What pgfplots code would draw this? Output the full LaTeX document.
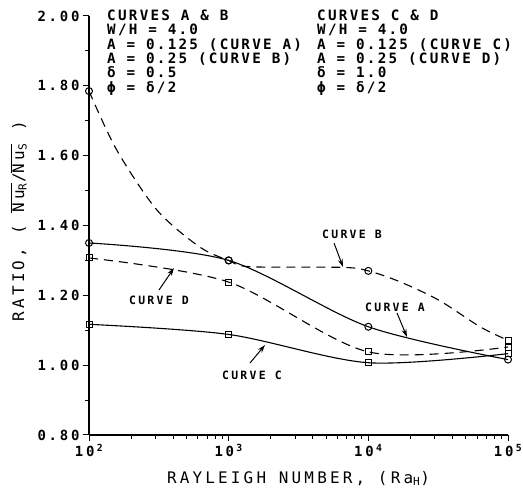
\documentclass[border=0pt]{standalone}
\usepackage{fontspec}
\setmainfont{DejaVu Sans Mono}[LetterSpace=20]
\newfontfamily\hdrfont{DejaVu Sans Mono}[LetterSpace=16]
\usepackage{pgfplots}
\pgfplotsset{compat=1.18}
\usetikzlibrary{arrows.meta}
\begin{document}
\begin{tikzpicture}[x=1bp,y=1bp]
\begin{axis}[
  at={(0,0)}, anchor=south west,
  width=419bp, height=419bp, scale only axis,
  xmode=log, xmin=100, xmax=100000,
  ymin=0.8, ymax=2.0,
  axis x line*=bottom, axis y line*=left,
  axis line style={line width=1.2bp},
  tick align=outside,
  major tick length=6bp, minor tick length=4bp,
  every tick/.style={black, line width=1bp},
  xtick={100,1000,10000,100000},
  xticklabels={10\,\textsuperscript{2},10\,\textsuperscript{3},10\,\textsuperscript{4},10\,\textsuperscript{5}},
  ytick={0.8,1.0,1.2,1.4,1.6,1.8,2.0},
  minor ytick={0.9,1.1,1.3,1.5,1.7,1.9},
  /pgf/number format/assume math mode=true,
  yticklabel style={/pgf/number format/fixed, /pgf/number format/fixed zerofill, /pgf/number format/precision=2, font=\bfseries\fontsize{14}{14}\selectfont},
  xticklabel style={font=\bfseries\fontsize{14}{14}\selectfont},
  xlabel={RAYLEIGH NUMBER, (Ra\textsubscript{H})},
  xlabel style={font=\fontsize{16}{16}\selectfont, anchor=base, at={(axis description cs:0.5,-0.1146)}},
  ylabel={RATIO, ( $\overline{\hbox{Nu\textsubscript{R}}}$/$\overline{\hbox{Nu\textsubscript{S}}}$ )},
  ylabel style={font=\fontsize{16}{16}\selectfont, rotate=0, anchor=base, at={(axis description cs:-0.155,0.51)}},
  clip=false,
]
% Curve A (solid, circles)
\addplot[black, line width=1.1bp, smooth, mark=o, mark size=3.5bp, mark options={solid, line width=1bp}]
  coordinates {(100,1.35) (1000,1.30) (10000,1.11) (100000,1.016)};
% Curve B (dashed), line through read points
\addplot[black, line width=1.1bp, smooth, dash pattern=on 9bp off 6bp]
  coordinates {(100,1.785) (158,1.616) (307,1.444) (617,1.339) (1000,1.30) (1413,1.282) (6600,1.280) (10000,1.27) (16800,1.239) (32000,1.186) (63000,1.11) (100000,1.071)};
\addplot[only marks, mark=o, mark size=3.5bp, mark options={black, line width=1bp}]
  coordinates {(100,1.785) (1000,1.30) (10000,1.27)};
\addplot[only marks, mark=square, mark size=3bp, mark options={black, line width=1bp}]
  coordinates {(100000,1.071)};
% Curve C (solid, squares)
\addplot[black, line width=1.1bp, smooth, mark=square, mark size=3bp, mark options={solid, line width=1bp}]
  coordinates {(100,1.117) (1000,1.088) (10000,1.007) (100000,1.033)};
% Curve D (dashed, squares)
\addplot[black, line width=1.1bp, smooth, dash pattern=on 9bp off 6bp, mark=square, mark size=3bp, mark options={solid, line width=1bp}]
  coordinates {(100,1.307) (1000,1.238) (10000,1.038) (100000,1.052)};
\end{axis}
% header text
\begin{scope}[every node/.style={anchor=base west, inner sep=0pt, font=\hdrfont\bfseries\fontsize{14.3}{14.3}\selectfont}]
\node at (18,414.3) {CURVES A \& B};
\node at (18,400) {W/H = 4.0};
\node at (18,385.5) {A = 0.125 (CURVE A)};
\node at (18,371) {A = 0.25 (CURVE B)};
\node at (18,357) {δ = 0.5};
\node at (18,342.5) {ϕ = δ/2};
\node at (228,414.3) {CURVES C \& D};
\node at (228,400) {W/H = 4.0};
\node at (228,385.5) {A = 0.125 (CURVE C)};
\node at (228,371) {A = 0.25 (CURVE D)};
\node at (228,357) {δ = 1.0};
\node at (228,342.5) {ϕ = δ/2};
\end{scope}
% curve labels and arrows
\begin{scope}[every node/.style={inner sep=0pt, font=\bfseries\fontsize{11.5}{11.5}\selectfont}]
\node at (263,201) {CURVE B};
\node at (306,128) {CURVE A};
\node at (70,135) {CURVE D};
\node at (163,60) {CURVE C};
\end{scope}
\begin{scope}[line width=1bp, -{Stealth[length=8bp,width=5bp]}]
\draw (245,192) -- (254,168);
\draw (308,122) -- (318,98);
\draw (70,145) -- (85,167);
\draw (161,72) -- (176,90);
\end{scope}
\pgfresetboundingbox
\path (-89,-53) rectangle (434,435);
\end{tikzpicture}
\end{document}
